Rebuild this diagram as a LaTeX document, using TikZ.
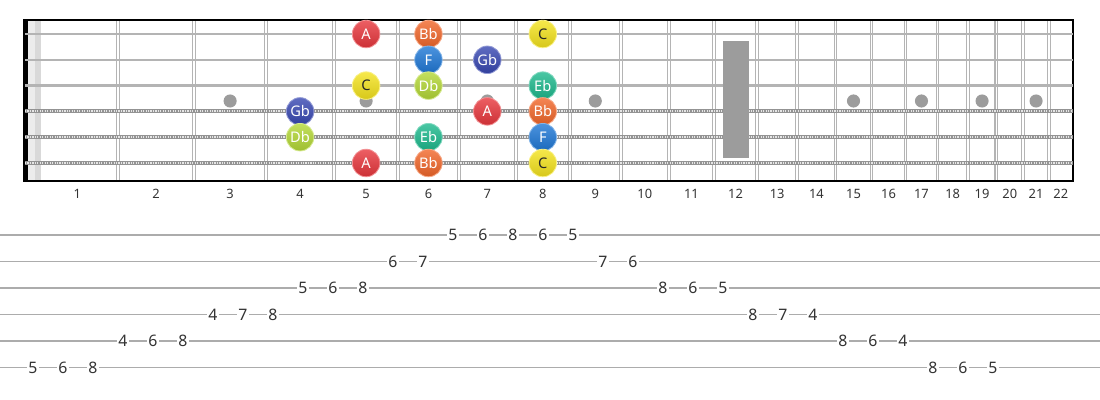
\documentclass[tikz,border=0pt]{standalone}
\usepackage{fontspec}
\setmainfont{Noto Sans}

\definecolor{colA}{HTML}{E8373D}
\definecolor{colBb}{HTML}{F2672A}
\definecolor{colC}{HTML}{F4E31E}
\definecolor{colF}{HTML}{1F78D6}
\definecolor{colGb}{HTML}{3848B2}
\definecolor{colDb}{HTML}{B4D836}
\definecolor{colEb}{HTML}{1DB98D}
\colorlet{txtA}{white}
\colorlet{txtBb}{white}
\colorlet{txtC}{black!85}
\colorlet{txtF}{white}
\colorlet{txtGb}{white}
\colorlet{txtDb}{white}
\colorlet{txtEb}{white}
\definecolor{fretgray}{HTML}{B4B4B4}
\definecolor{inlay}{HTML}{9C9C9C}

\tikzset{
  fretline/.style={fretgray, line width=0.9pt},
  plainstr/.style={fretgray, line width=2.2pt},
  woundstr/.style={gray!85, line width=3.4pt},
  woundtex/.style={gray!20, line width=1.6pt, dash pattern=on 1pt off 1.1pt},
  note/.style={circle, inner sep=0pt, minimum size=23.5pt, draw=col#1!55!white, line width=0.7pt,
    top color=col#1!80!white, middle color=col#1, bottom color=col#1!88!black,
    text=txt#1, font=\fontsize{12.5}{12}\selectfont},
  fretnum/.style={text=black!80, font=\fontsize{11}{10}\selectfont},
  tabline/.style={gray!65, line width=1.4pt},
  tabnum/.style={fill=white, inner sep=1.3pt, text=black!80, font=\fontsize{13.5}{12}\selectfont}
}

\begin{document}
\begin{tikzpicture}[x=0.03cm, y=-0.03cm,
  declare function={fx(\n)=37+1440*(1-1/pow(2,\n/12));
                    fm(\n)=(fx(\n-1)+fx(\n))/2;
                    sy(\s)=34+(\s-1)*25.8;
                    ty(\s)=235+(\s-1)*26.5;}]
\useasboundingbox (0,0) rectangle (1100,400);

% fretboard
\fill[gray!15] (27,20) rectangle (41,181);
\fill[gray!30] (35,20) rectangle (41,181);
\foreach \n in {1,...,21} {
  \draw[fretline] ({fx(\n)-1.4},20) -- ({fx(\n)-1.4},181);
  \draw[fretline] ({fx(\n)+1.4},20) -- ({fx(\n)+1.4},181);
}
\fill[black] (23,20) rectangle (27.5,181);
\draw[line width=1.2pt] (23,20) -- (1073,20) -- (1073,181) -- (23,181);

% strings
\foreach \s in {1,2,3}
  \draw[plainstr] (25,{sy(\s)}) -- (1073,{sy(\s)});
\foreach \s in {4,5,6} {
  \draw[woundstr] (25,{sy(\s)}) -- (1073,{sy(\s)});
  \draw[woundtex] (25,{sy(\s)}) -- (1073,{sy(\s)});
}

% inlays
\foreach \n in {3,5,7,9,15,17,19,21}
  \fill[inlay] ({fm(\n)},101) circle (5.6pt);
\fill[inlay] ({fm(12)-13},41) rectangle ({fm(12)+13},158);

% notes
\foreach \s/\f/\m in {1/5/A, 1/6/Bb, 1/8/C, 2/6/F, 2/7/Gb, 3/5/C, 3/6/Db, 3/8/Eb,
    4/4/Gb, 4/7/A, 4/8/Bb, 5/4/Db, 5/6/Eb, 5/8/F, 6/5/A, 6/6/Bb, 6/8/C}
  \node[note=\m] (n\s-\f) at ({fm(\f)},{sy(\s)}) {\m};

\foreach \n in {1,...,22}
  \node[fretnum] (f\n) at ({fm(\n)},194) {\n};

% tab
\foreach \s in {1,...,6}
  \draw[tabline] (0,{ty(\s)}) -- (1100,{ty(\s)});
\foreach \k/\s/\f in {0/6/5, 1/6/6, 2/6/8, 3/5/4, 4/5/6, 5/5/8, 6/4/4, 7/4/7, 8/4/8,
    9/3/5, 10/3/6, 11/3/8, 12/2/6, 13/2/7, 14/1/5, 15/1/6, 16/1/8, 17/1/6, 18/1/5,
    19/2/7, 20/2/6, 21/3/8, 22/3/6, 23/3/5, 24/4/8, 25/4/7, 26/4/4, 27/5/8, 28/5/6,
    29/5/4, 30/6/8, 31/6/6, 32/6/5}
  \node[tabnum] (t\k) at ({33+30*\k},{ty(\s)}) {\f};
\end{tikzpicture}
\end{document}
